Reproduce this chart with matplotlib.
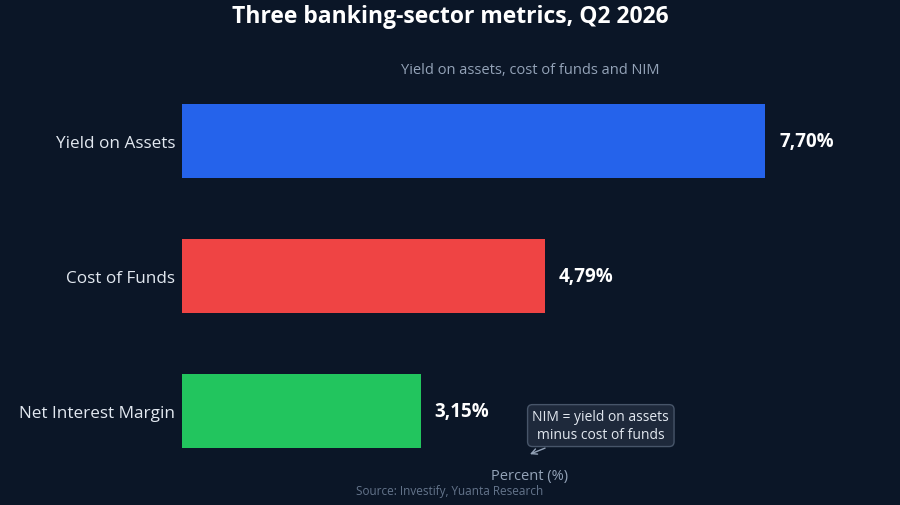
import matplotlib
matplotlib.use("Agg")
import matplotlib.pyplot as plt

categories = ["Yield on Assets", "Cost of Funds", "Net Interest Margin"]
values = [7.70, 4.79, 3.15]
value_labels = ["7,70%", "4,79%", "3,15%"]
colors = ["#2563eb", "#ef4444", "#22c55e"]

BG = "#0b1627"
plt.rcParams['font.family'] = ['Open Sans', 'Noto Sans', 'DejaVu Sans']

fig = plt.figure(figsize=(9, 5.06), dpi=100, facecolor=BG)
ax = fig.add_axes([182/900, 1-466/506, 696/900, (466-88)/506])
ax.set_facecolor(BG)

y = list(range(len(categories)))
ax.barh(y, values, height=0.55, color=colors)
ax.set_ylim(2.4025, -0.4025)
ax.set_xlim(0, 9.19)
ax.set_yticks(y)
ax.set_yticklabels(categories, fontsize=12.3, color="#e2e8f0")
ax.tick_params(axis='y', length=0, pad=5)
ax.set_xticks([])
for s in ax.spines.values():
    s.set_visible(False)

for yi, v, lab in zip(y, values, value_labels):
    ax.annotate(lab, xy=(v, yi), xytext=(10, 0), textcoords="offset points",
                ha="left", va="center", fontsize=13.5, fontweight="bold", color="white")

ax.set_title("Yield on assets, cost of funds and NIM", fontsize=10.5, color="#94a3b8", pad=10)
ax.set_xlabel("Percent (%)", fontsize=10.5, color="#94a3b8", labelpad=2)

ax.annotate("NIM = yield on assets\nminus cost of funds", xy=(4.56, 2.33), xytext=(5.53, 2.11),
            ha="center", va="center", fontsize=10, color="#e2e8f0",
            bbox=dict(boxstyle="round,pad=0.35", fc="#1e293b", ec="#475569", lw=1),
            arrowprops=dict(arrowstyle="->", color="#94a3b8", lw=1))

fig.text(0.5, 1-17/506, "Three banking-sector metrics, Q2 2026", ha="center", va="center",
         fontsize=16.5, fontweight="bold", color="white")
fig.text(0.5, 1-492/506, "Source: Investify, Yuanta Research", ha="center", va="center",
         fontsize=8.5, color="#64748b")

fig.savefig("out.png", dpi=100, facecolor=BG)
